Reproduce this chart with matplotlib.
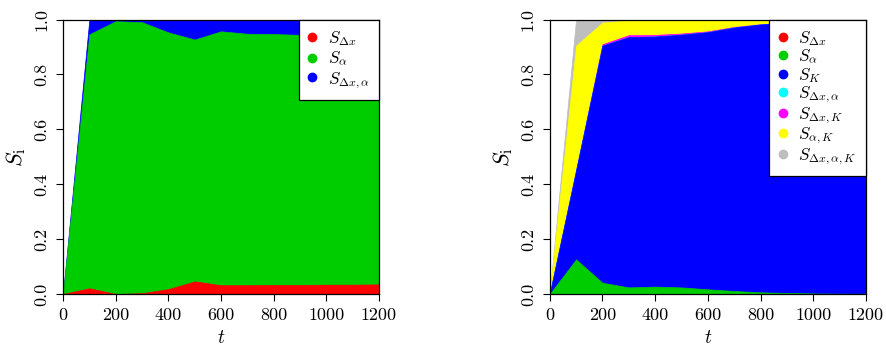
import matplotlib
matplotlib.use("Agg")
import matplotlib.pyplot as plt
from matplotlib.lines import Line2D

plt.rcParams['font.family'] = 'serif'
plt.rcParams['font.serif'] = ['cmr10']
plt.rcParams['mathtext.fontset'] = 'cm'
plt.rcParams['axes.formatter.use_mathtext'] = True

t = [0, 100, 200, 300, 400, 500, 600, 700, 800, 900, 1000, 1100, 1200]

# left panel
L_dx = [0, 0.021, 0.0, 0.003, 0.018, 0.046, 0.032, 0.032, 0.033, 0.033, 0.034, 0.034, 0.035]
L_a = [0, 0.925, 0.994, 0.987, 0.935, 0.881, 0.925, 0.916, 0.914, 0.911, 0.910, 0.910, 0.909]
L_dxa = [0, 0.054, 0.006, 0.010, 0.047, 0.073, 0.043, 0.052, 0.053, 0.056, 0.056, 0.056, 0.056]

# right panel
R_dx = [0, 0, 0, 0, 0, 0, 0, 0, 0, 0, 0, 0, 0]
R_a = [0, 0.126, 0.041, 0.024, 0.027, 0.024, 0.017, 0.011, 0.006, 0.004, 0.002, 0.001, 0.001]
R_K = [0, 0.324, 0.864, 0.912, 0.911, 0.921, 0.937, 0.960, 0.976, 0.984, 0.988, 0.991, 0.992]
R_dxa = [0, 0, 0, 0, 0, 0, 0, 0, 0, 0, 0, 0, 0]
R_dxK = [0, 0.002, 0.005, 0.007, 0.006, 0.004, 0.003, 0.002, 0.001, 0.001, 0.001, 0.001, 0.001]
R_aK = [0, 0.453, 0.079, 0.053, 0.053, 0.049, 0.041, 0.026, 0.016, 0.010, 0.008, 0.006, 0.005]
R_dxaK = [0, 0.095, 0.011, 0.004, 0.003, 0.002, 0.002, 0.001, 0.001, 0.001, 0.001, 0.001, 0.001]

L_labels = [r'$S_{\Delta x}$', r'$S_{\alpha}$', r'$S_{\Delta x,\alpha}$']
R_labels = [r'$S_{\Delta x}$', r'$S_{\alpha}$', r'$S_{K}$', r'$S_{\Delta x,\alpha}$',
            r'$S_{\Delta x,K}$', r'$S_{\alpha,K}$', r'$S_{\Delta x,\alpha,K}$']
L_colors = ['#FF0000', '#00CD00', '#0000FF']
R_colors = ['#FF0000', '#00CD00', '#0000FF', '#00FFFF', '#FF00FF', '#FFFF00', '#BEBEBE']

xticks = [0, 200, 400, 600, 800, 1000, 1200]
xticklabels = ['0', '200', '400', '600', '800', '1000', '1200']
yticks = [0.0, 0.2, 0.4, 0.6, 0.8, 1.0]
yticklabels = ['0.0', '0.2', '0.4', '0.6', '0.8', '1.0']

FS = 13
LFS = 12.3
fig = plt.figure(figsize=(8.86, 3.48), dpi=100)
W, H = 886, 348
axL = fig.add_axes([63 / W, (H - 294) / H, 316 / W, 274.5 / H])
axR = fig.add_axes([549.7 / W, (H - 294) / H, 316.3 / W, 274.5 / H])


def panel(ax, series, colors, labels, spacing):
    # cumulative layers drawn from the top down, each from 0 to its cumulative sum
    cums = []
    run = [0.0] * len(t)
    for s in series:
        run = [a + b for a, b in zip(run, s)]
        cums.append(run)
    for cum, c in reversed(list(zip(cums, colors))):
        ax.fill_between(t, 0, cum, facecolor=c, edgecolor=c, linewidth=0.5)
    ax.set_xlim(0, 1200)
    ax.set_ylim(0, 1)
    ax.set_xticks(xticks)
    ax.set_xticklabels(xticklabels, fontsize=FS)
    ax.set_yticks(yticks)
    ax.set_yticklabels(yticklabels, fontsize=FS, rotation=90, va='center')
    ax.tick_params(direction='out', length=5, width=0.8, pad=5)
    for s in ax.spines.values():
        s.set_linewidth(0.9)
        s.set_zorder(5)
    ax.set_xlabel(r'$t$', fontsize=14, labelpad=4)
    ax.set_ylabel(r'$S_{\mathrm{i}}$', fontsize=16, labelpad=4)
    handles = [Line2D([], [], linestyle='none', marker='o', markersize=6,
                      markerfacecolor=c, markeredgecolor=c) for c in colors]
    leg = ax.legend(handles, labels, loc='upper right', fontsize=LFS,
                    frameon=True, fancybox=False, framealpha=1, edgecolor='black',
                    borderaxespad=0, handlelength=0.5, handletextpad=0.65,
                    labelspacing=spacing, borderpad=0.55)
    leg.get_frame().set_linewidth(0.9)
    leg.set_zorder(6)


panel(axL, [L_dx, L_a, L_dxa], L_colors, L_labels, 0.12)
panel(axR, [R_dx, R_a, R_K, R_dxa, R_dxK, R_aK, R_dxaK], R_colors, R_labels, 0.0)

fig.savefig('out.png', dpi=100)
